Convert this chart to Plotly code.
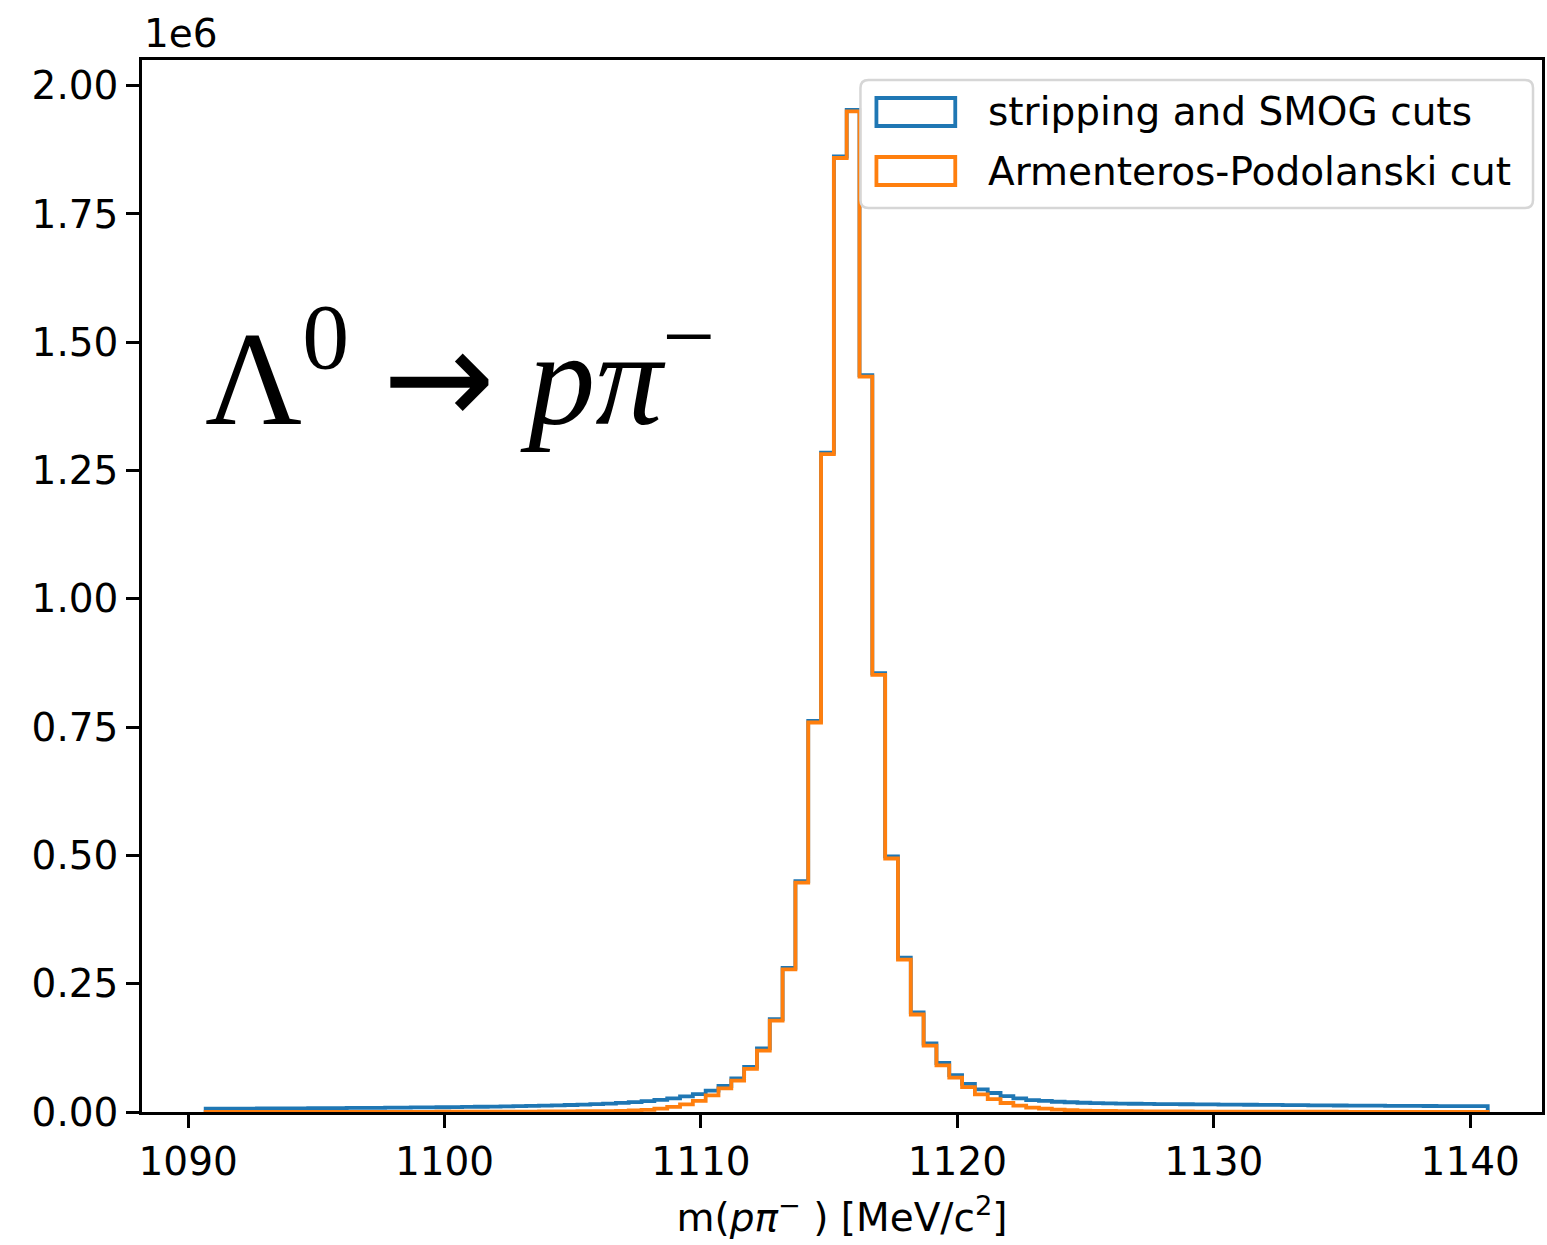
import numpy as np
import plotly.graph_objects as go

# ---------------- data ----------------
bin_low = 1090.683
bin_high = 1140.683
n_bins = 100

stripping_counts = [
    6500, 6600, 6700, 6750, 6900, 7000, 7100, 7250, 7400, 7500,
    7700, 7850, 8000, 8200, 8400, 8600, 8850, 9050, 9300, 9600,
    9900, 10200, 10550, 10900, 11300, 11800, 12300, 12900, 13600, 14400,
    15300, 16400, 17700, 19300, 21300, 23700, 26500, 30500, 35000, 41500,
    50700, 65700, 88000, 124000, 181000, 281000, 450000, 762000, 1285000, 1862000,
    1953000, 1436000, 855000, 498000, 301000, 194000, 133500, 95500, 72000, 55000,
    44000, 37000, 31000, 26500, 23000, 21500, 20000, 19000, 18000, 17300,
    16800, 16400, 16100, 15800, 15500, 15300, 15100, 14900, 14700, 14500,
    14300, 14100, 13900, 13700, 13500, 13300, 13100, 12900, 12700, 12550,
    12400, 12250, 12100, 11950, 11800, 11700, 11600, 11500, 11400, 11300,
]

armenteros_counts = [
    120, 130, 140, 150, 160, 170, 185, 200, 215, 230,
    250, 270, 290, 310, 335, 360, 390, 420, 460, 500,
    550, 600, 660, 730, 810, 900, 1000, 1120, 1260, 1420,
    1620, 1850, 2200, 2900, 4100, 6500, 10000, 15000, 21500, 32500,
    46000, 61000, 84000, 119500, 178000, 278000, 447000, 759000, 1282000, 1859000,
    1950000, 1433000, 852000, 494000, 297000, 190000, 129500, 91000, 67000, 48500,
    34500, 25000, 17500, 12300, 8600, 6400, 4700, 3500, 2800, 2300,
    1950, 1700, 1500, 1350, 1220, 1100, 1000, 920, 850, 790,
    730, 680, 640, 600, 560, 530, 500, 470, 450, 430,
    410, 390, 370, 355, 340, 325, 310, 300, 290, 280,
]

series_names = ["stripping and SMOG cuts", "Armenteros-Podolanski cut"]
series_colors = ["#1f77b4", "#ff7f0e"]

x_tick_vals = [1090, 1100, 1110, 1120, 1130, 1140]
y_tick_vals = [0, 250000, 500000, 750000, 1000000, 1250000, 1500000, 1750000, 2000000]
y_tick_text = ["0.00", "0.25", "0.50", "0.75", "1.00", "1.25", "1.50", "1.75", "2.00"]

x_range = [1088.2, 1142.8]
y_range = [0, 2.05e6]

# ---------------- figure ----------------
W, H = 1547, 1245
ML, MR, MT, MB = 142, 2, 60, 133
PW, PH = W - ML - MR, H - MT - MB


def px(x):
    return (x - ML) / PW


def py(y):
    return (H - MB - y) / PH


edges = np.linspace(bin_low, bin_high, n_bins + 1)

fig = go.Figure()
for counts, name, color in zip([stripping_counts, armenteros_counts], series_names, series_colors):
    xs = np.concatenate([[edges[0]], edges])
    ys = np.concatenate([[0], counts, [0]])
    fig.add_trace(go.Scatter(
        x=xs, y=ys, mode="lines", line=dict(color=color, width=3.8, shape="hv"),
        name=name, showlegend=False, hoverinfo="skip",
    ))

FONT = "DejaVu Sans"
FS = 39

fig.update_layout(
    width=W, height=H,
    margin=dict(l=ML, r=MR, t=MT, b=MB),
    paper_bgcolor="white", plot_bgcolor="white",
    font=dict(family=FONT, size=FS, color="black"),
    xaxis=dict(
        range=x_range, tickvals=x_tick_vals, ticks="outside", ticklen=13, tickwidth=2.5,
        tickcolor="black", showline=True, linecolor="black", linewidth=2.5, mirror=True,
        showgrid=False, zeroline=False,
        title=dict(text="m(<i>pπ</i><sup>−</sup> ) [MeV/c<sup>2</sup>]", standoff=22,
                   font=dict(family=FONT, size=FS)),
        tickfont=dict(family=FONT, size=FS),
    ),
    yaxis=dict(
        range=y_range, tickvals=y_tick_vals, ticktext=y_tick_text, ticks="outside",
        ticklen=13, tickwidth=2.5, tickcolor="black", showline=True, linecolor="black",
        linewidth=2.5, mirror=True, showgrid=False, zeroline=False,
        tickfont=dict(family=FONT, size=FS),
    ),
    showlegend=False,
)

annotations = []
# offset text
annotations.append(dict(
    text="1e6", xref="paper", yref="paper", x=0, y=1, xanchor="left", yanchor="bottom",
    yshift=2, showarrow=False, font=dict(family=FONT, size=FS),
))
# decay label
annotations.append(dict(
    text=("Λ<sup>0</sup> <span style=\"font-family:DejaVu Sans\">→</span> "
          "<i>pπ</i><sup>−</sup>"),
    xref="paper", yref="paper",
    x=px(203), y=py(370), xanchor="left", yanchor="middle", showarrow=False,
    font=dict(family="Liberation Serif", size=134, color="black"),
))

# custom legend (matplotlib-like, with rectangle patches)
lx0, lx1, ly0, ly1 = 862, 1536, 80, 208
r = 8
rx, ry = r / PW, r / PH
X0, X1, Y0, Y1 = px(lx0), px(lx1), py(ly1), py(ly0)
path = (f"M {X0+rx},{Y0} L {X1-rx},{Y0} Q {X1},{Y0} {X1},{Y0+ry} "
        f"L {X1},{Y1-ry} Q {X1},{Y1} {X1-rx},{Y1} L {X0+rx},{Y1} "
        f"Q {X0},{Y1} {X0},{Y1-ry} L {X0},{Y0+ry} Q {X0},{Y0} {X0+rx},{Y0} Z")
shapes = [dict(type="path", path=path, xref="paper", yref="paper",
               fillcolor="rgba(255,255,255,0.8)", line=dict(color="#d6d6d6", width=2.5))]

row_centers = [112, 171]
for yc, name, color in zip(row_centers, series_names, series_colors):
    shapes.append(dict(type="rect", xref="paper", yref="paper",
                       x0=px(878), x1=px(957), y0=py(yc + 14), y1=py(yc - 14),
                       line=dict(color=color, width=3.8), fillcolor="rgba(0,0,0,0)"))
    annotations.append(dict(
        text=name, xref="paper", yref="paper", x=px(988), y=py(yc), xanchor="left",
        yanchor="middle", showarrow=False, font=dict(family=FONT, size=FS),
    ))

fig.update_layout(shapes=shapes, annotations=annotations)

fig.write_html("out.html")
